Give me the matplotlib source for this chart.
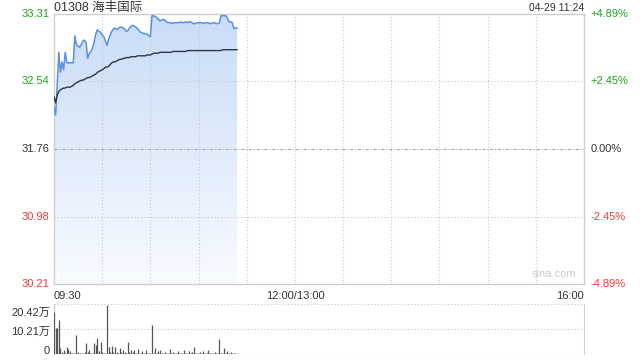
import numpy as np
import matplotlib
matplotlib.use('Agg')
import matplotlib.pyplot as plt
from matplotlib.transforms import offset_copy

plt.rcParams['font.family'] = ['Liberation Sans', 'Noto Sans CJK SC']

# ---- data ----
title = '01308 海丰国际'
stamp = '04-29 11:24'
prev_close = 31.76
price_ticks = [30.21, 30.98, 31.76, 32.54, 33.31]
pct_labels = ['-4.89%', '-2.45%', '0.00%', '+2.45%', '+4.89%']
time_labels = ['09:30', '12:00/13:00', '16:00']
time_label_pos = [0, 150, 330]

# one value per minute from 09:30
price = [32.24, 32.15, 32.50, 32.87, 32.64, 32.76, 32.67, 32.87, 32.75, 32.75,
         32.75, 32.75, 32.75, 33.06, 32.96, 32.94, 32.93, 32.96, 33.00, 33.01,
         32.98, 32.80, 32.86, 32.88, 32.92, 32.99, 33.08, 33.13, 33.11, 33.10,
         33.07, 33.05, 33.00, 32.95, 33.02, 33.07, 33.11, 33.14, 33.15, 33.13,
         33.14, 33.16, 33.16, 33.15, 33.14, 33.11, 33.12, 33.15, 33.17, 33.18,
         33.17, 33.16, 33.14, 33.12, 33.10, 33.09, 33.09, 33.08, 33.08, 33.06,
         33.05, 33.29, 33.29, 33.28, 33.27, 33.25, 33.23, 33.24, 33.25, 33.24,
         33.22, 33.21, 33.21, 33.21, 33.20, 33.21, 33.21, 33.21, 33.21, 33.22,
         33.21, 33.21, 33.22, 33.21, 33.22, 33.22, 33.21, 33.20, 33.20, 33.21,
         33.21, 33.21, 33.21, 33.20, 33.21, 33.21, 33.21, 33.20, 33.20, 33.21,
         33.21, 33.20, 33.20, 33.21, 33.29, 33.29, 33.29, 33.29, 33.26, 33.22,
         33.22, 33.21, 33.14, 33.15, 33.15]

avg_price = [32.36, 32.29, 32.38, 32.42, 32.44, 32.45, 32.46, 32.46, 32.47, 32.47,
             32.47, 32.48, 32.49, 32.51, 32.52, 32.53, 32.54, 32.55, 32.55, 32.56,
             32.57, 32.58, 32.58, 32.59, 32.60, 32.61, 32.62, 32.64, 32.65, 32.66,
             32.67, 32.68, 32.70, 32.70, 32.71, 32.73, 32.75, 32.76, 32.76, 32.77,
             32.78, 32.79, 32.79, 32.80, 32.80, 32.81, 32.81, 32.81, 32.82, 32.82,
             32.82, 32.82, 32.83, 32.83, 32.83, 32.83, 32.83, 32.83, 32.84, 32.84,
             32.84, 32.85, 32.86, 32.86, 32.86, 32.86, 32.87, 32.87, 32.87, 32.87,
             32.87, 32.87, 32.87, 32.87, 32.88, 32.88, 32.88, 32.88, 32.88, 32.88,
             32.88, 32.88, 32.88, 32.89, 32.89, 32.89, 32.89, 32.89, 32.89, 32.89,
             32.89, 32.89, 32.89, 32.89, 32.89, 32.89, 32.89, 32.89, 32.89, 32.89,
             32.89, 32.89, 32.89, 32.89, 32.89, 32.90, 32.90, 32.90, 32.90, 32.90,
             32.90, 32.90, 32.90, 32.90, 32.90]

# volume, in 万
volume = [22.8, 14.0, 14.0, 18.4, 3.0, 1.0, 2.0, 0.8, 3.8, 2.5,
          1.5, 0.6, 0.8, 0.5, 10.3, 1.0, 0.6, 0.5, 0.8, 1.2,
          6.0, 1.0, 2.0, 0.5, 0.8, 6.0, 5.0, 8.6, 1.5, 6.5,
          1.0, 0.6, 0.8, 26.5, 4.0, 1.0, 4.5, 1.0, 4.0, 1.0,
          0.8, 3.0, 1.0, 2.0, 1.0, 0.7, 6.5, 1.0, 2.0, 1.0,
          2.0, 0.8, 2.5, 0.5, 0.8, 1.5, 0.5, 2.0, 0.5, 0.8,
          0.5, 15.7, 0.5, 3.5, 0.8, 1.5, 2.0, 0.5, 0.8, 1.0,
          0.5, 0.8, 2.5, 0.5, 1.0, 0.5, 0.8, 1.5, 0.6, 0.5,
          0.8, 2.0, 0.5, 0.8, 1.5, 0.5, 1.0, 4.0, 0.6, 0.5,
          0.8, 1.0, 0.5, 1.5, 0.5, 0.8, 2.0, 0.5, 0.8, 0.6,
          1.0, 0.5, 0.8, 8.0, 0.6, 0.8, 3.5, 0.5, 1.5, 0.6,
          1.0, 0.5, 0.8, 0.5, 0.5]
vol_ticks = [0, 10.21, 20.42]
vol_labels = ['0', '10.21万', '20.42万']

green = '#1ca51c'
red = '#f23b3b'
dark = '#333333'
grid_c = '#c8c8c8'
border_c = '#cfcfcf'
minutes = np.arange(len(price))

fig = plt.figure(figsize=(6.4, 3.6), dpi=100)
ax = fig.add_axes([54/640, 76/360, 530/640, 270/360])
axv = fig.add_axes([54/640, 6/360, 530/640, 50/360])

# ---- price panel ----
ax.set_xlim(0, 330)
ax.set_ylim(price_ticks[0], price_ticks[-1])
for xg in range(30, 330, 30):
    ax.axvline(xg, color=grid_c, lw=0.8, ls=(0, (1, 2)), zorder=3)
for yg in price_ticks[1:-1]:
    if yg == prev_close:
        ax.axhline(yg, color='#aaaaaa', lw=0.8, ls=(0, (3, 1.5, 1, 1.5)), zorder=3)
    else:
        ax.axhline(yg, color=grid_c, lw=0.8, ls=(0, (1, 2)), zorder=3)

fill = ax.fill_between(minutes, price, price_ticks[0], color='none', lw=0)
grad = np.linspace(0, 1, 256).reshape(-1, 1)
cmap = matplotlib.colors.LinearSegmentedColormap.from_list('g', ['#c9dcf7', '#f8fbff'])
im = ax.imshow(grad, cmap=cmap, aspect='auto',
               extent=[0, 330, price_ticks[0], price_ticks[-1]],
               zorder=2, origin='upper')
im.set_clip_path(fill.get_paths()[0], transform=ax.transData)
ax.set_xlim(0, 330)
ax.set_ylim(price_ticks[0], price_ticks[-1])

ax.plot(minutes, price, color='#5b8fe8', lw=1.1, zorder=4)
ax.plot(minutes, avg_price, color='#2f3646', lw=1.0, zorder=4)

for s in ax.spines.values():
    s.set_color(border_c)
    s.set_linewidth(1)
ax.set_xticks([])
ax.set_yticks([])

for v in price_ticks:
    col = green if v > prev_close else (red if v < prev_close else dark)
    ax.text(-0.008, v, f'{v:.2f}', transform=ax.get_yaxis_transform(), ha='right',
            va='center', fontsize=8, color=col)
for v, lab in zip(price_ticks, pct_labels):
    col = green if v > prev_close else (red if v < prev_close else dark)
    ax.text(1.012, v, lab, transform=ax.get_yaxis_transform(), ha='left',
            va='center', fontsize=8, color=col)

has = ['left', 'center', 'right']
for pos, lab, h in zip(time_label_pos, time_labels, has):
    ax.text(pos, -0.025, lab, transform=ax.get_xaxis_transform(), ha=h, va='top',
            fontsize=8, color=dark)

tr_top = offset_copy(ax.transAxes, fig=fig, y=2, units='points')
ax.text(0.0, 1.0, title, transform=tr_top, ha='left', va='baseline', fontsize=9, color=dark)
ax.text(1.0, 1.0, stamp, transform=tr_top, ha='right', va='baseline', fontsize=7.5, color=dark)
ax.text(0.985, 0.02, 'sina.com', transform=ax.transAxes, ha='right', va='bottom',
        fontsize=8, color='#cccccc')

# ---- volume panel ----
axv.set_xlim(0, 330)
axv.set_ylim(0, 27)
axv.vlines(minutes, 0, volume, color='#555555', lw=0.9, zorder=3)
axv.axhline(27, color=grid_c, lw=0.8, ls=(0, (1, 2)))
axv.axhline(13.5, color=grid_c, lw=0.8, ls=(0, (1, 2)))
axv.axhline(0, color=grid_c, lw=0.8, ls=(0, (1, 2)))
for side in ['top', 'bottom']:
    axv.spines[side].set_visible(False)
for side in ['left', 'right']:
    axv.spines[side].set_color(border_c)
axv.set_xticks([])
axv.set_yticks([])
tr = offset_copy(axv.get_yaxis_transform(), fig=fig, x=-3, y=2.5, units='points')
for v, lab in zip(vol_ticks, vol_labels):
    axv.text(0, v, lab, transform=tr, ha='right', va='center', fontsize=8, color=dark)

fig.savefig('out.png', dpi=100)
